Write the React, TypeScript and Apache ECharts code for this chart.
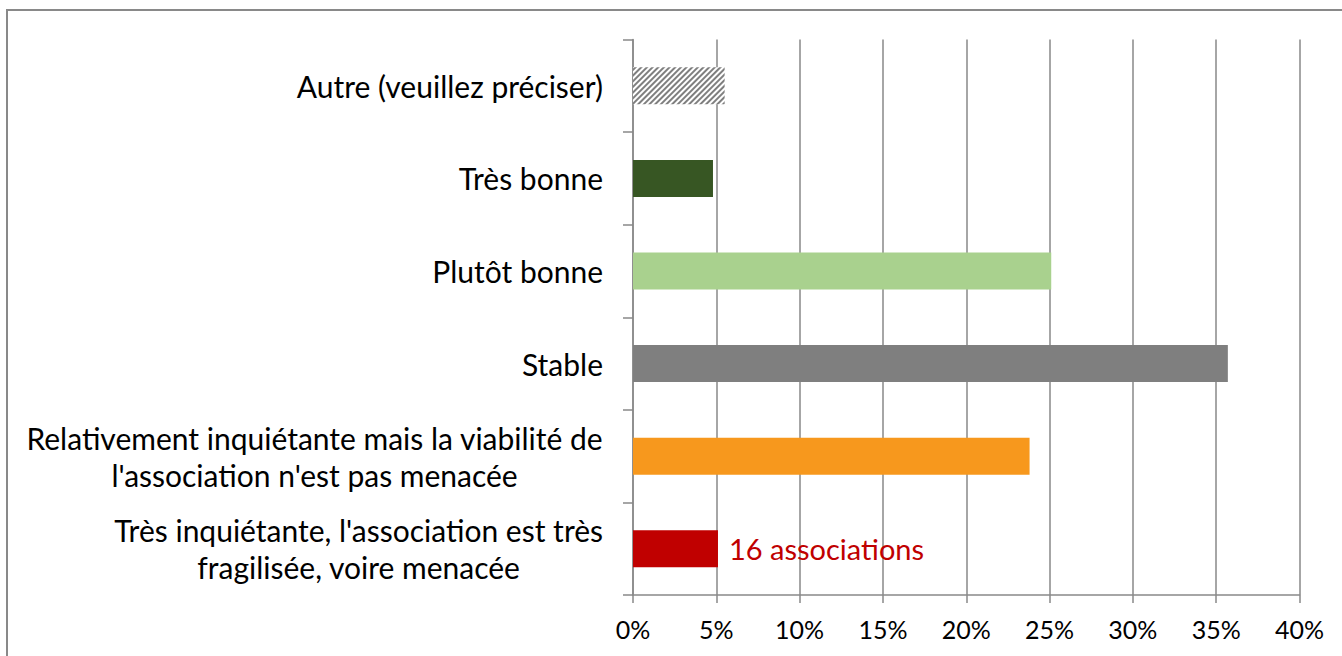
import React, { useEffect, useRef } from "react";
import * as echarts from "echarts";

// categories from bottom to top (ECharts category axis order)
const categories = [
  "Très inquiétante, l'association est très\nfragilisée, voire menacée",
  "Relativement inquiétante mais la viabilité de\nl'association n'est pas menacée",
  "Stable",
  "Plutôt bonne",
  "Très bonne",
  "Autre (veuillez préciser)",
];
const values = [5.1, 23.8, 35.7, 25.1, 4.8, 5.5];
const colors = ["#c00000", "#f7981d", "#7f7f7f", "#a9d18e", "#375623", "hatch"];
const annotation = "16 associations";
const xTicks = { min: 0, max: 40, interval: 5 };

const FONT = "Lato";

export default function App() {
  const ref = useRef<HTMLDivElement>(null);
  useEffect(() => {
    document.body.style.margin = "0";
    const chart = echarts.init(ref.current!, null, { renderer: "svg" });
    const data = values.map((v, i) => {
      const c = colors[i];
      const item: any = { value: v };
      if (c === "hatch") {
        item.itemStyle = {
          color: "#ffffff",
          decal: {
            symbol: "rect",
            symbolSize: 1,
            color: "#7f7f7f",
            dashArrayX: [1, 0],
            dashArrayY: [2, 2],
            rotation: -Math.PI / 4,
          },
        };
      } else {
        item.itemStyle = { color: c };
      }
      if (i === 0) {
        item.label = {
          show: true,
          position: "right",
          distance: 11,
          formatter: annotation,
          color: "#c00000",
          fontSize: 29,
          fontFamily: FONT,
        };
      }
      return item;
    });
    chart.setOption({
      animation: false,
      backgroundColor: "#ffffff",
      textStyle: { fontFamily: FONT },
      graphic: [
        {
          type: "rect",
          shape: { x: 7, y: 10, width: 1500, height: 800 },
          style: { fill: "none", stroke: "#898989", lineWidth: 2 },
          silent: true,
        },
      ],
      grid: { left: 633, right: 42.5, top: 39.5, bottom: 61, containLabel: false },
      xAxis: {
        type: "value",
        min: xTicks.min,
        max: xTicks.max,
        interval: xTicks.interval,
        axisLine: { show: true, lineStyle: { color: "#898989", width: 1.5 } },
        axisTick: { show: true, length: 8, lineStyle: { color: "#898989", width: 1.5 } },
        splitLine: { show: true, lineStyle: { color: "#898989", width: 1.5 } },
        axisLabel: {
          formatter: "{value}%",
          color: "#000",
          fontSize: 25,
          fontFamily: FONT,
          margin: 21,
        },
      },
      yAxis: {
        type: "category",
        data: categories,
        axisLine: { show: true, lineStyle: { color: "#898989", width: 1.5 } },
        axisTick: { show: true, length: 10, lineStyle: { color: "#898989", width: 1.5 } },
        axisLabel: {
          margin: 30,
          align: "right",
          formatter: (v: string) =>
            v
              .split("\n")
              .map((l) => `{c|${l}}`)
              .join("\n"),
          rich: {
            c: {
              align: "center",
              color: "#000",
              fontSize: 30,
              fontFamily: FONT,
              lineHeight: 37,
            },
          },
        },
      },
      series: [
        {
          type: "bar",
          data,
          barWidth: 37,
        },
      ],
    });
    return () => chart.dispose();
  }, []);
  return <div ref={ref} style={{ width: 1342, height: 656 }} />;
}
